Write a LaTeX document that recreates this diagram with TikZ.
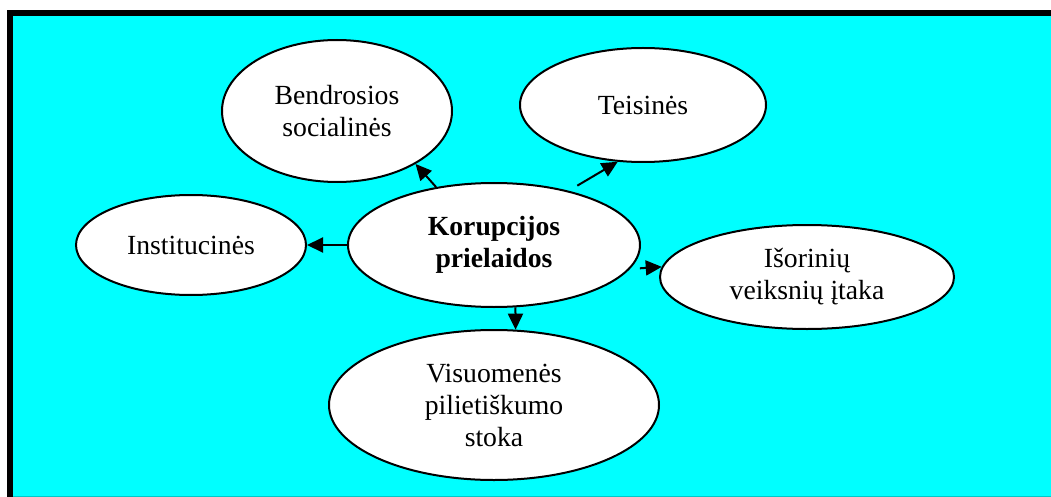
\documentclass[tikz,border=0pt]{standalone}
\usepackage{fontspec}
\setmainfont{Liberation Serif}
\usetikzlibrary{shapes.geometric,arrows.meta}
\definecolor{bgcyan}{RGB}{0,255,255}
\definecolor{rimteal}{RGB}{0,200,200}
\begin{document}
\begin{tikzpicture}[x=1pt,y=-1pt,
    bubble/.style={ellipse,draw,line width=2pt,fill=white,inner sep=0pt,
      align=center,font=\fontsize{27.7}{32}\selectfont},
    arr/.style={line width=2pt,-{Triangle[length=16pt,width=15pt]}}]
      \useasboundingbox (0,0) rectangle (1051,497);
      % background and frame
      \fill[bgcyan] (13,16) rectangle (1051,496);
      \draw[rimteal,line width=1pt] (13,496) -- (1051,496);
      \fill[black] (7,10) rectangle (1051,16);
      \fill[black] (7,10) rectangle (13,497);
      % ellipses
      \node[bubble,minimum width=292pt,minimum height=124pt,
        font=\fontsize{27.7}{32}\selectfont\bfseries] (ctr) at (494,245) {Korupcijos\\prielaidos};
      \node[bubble,minimum width=230pt,minimum height=142pt] (bend) at (337,111) {Bendrosios\\socialinės};
      \node[bubble,minimum width=246pt,minimum height=114pt] (teis) at (643,105) {Teisinės};
      \node[bubble,minimum width=230pt,minimum height=100pt] (inst) at (191,245) {Institucinės};
      \node[bubble,minimum width=294pt,minimum height=104pt] (iso) at (807,277) {Išorinių\\veiksnių įtaka};
      \node[bubble,minimum width=330pt,minimum height=150pt] (vis) at (494,405) {Visuomenės\\pilietiškumo\\stoka};
      % arrows
      \draw[arr] (ctr.135) -- (bend.-34);
      \draw[arr,shorten <=10pt] (ctr.36) -- (teis.246);
      \draw[arr] (ctr.west) -- (inst.east);
      \draw[arr,shorten <=10pt] (ctr.-10) -- (iso.176);
      \draw[arr] (ctr.-71) -- (vis.74);
    \end{tikzpicture}
\end{document}
